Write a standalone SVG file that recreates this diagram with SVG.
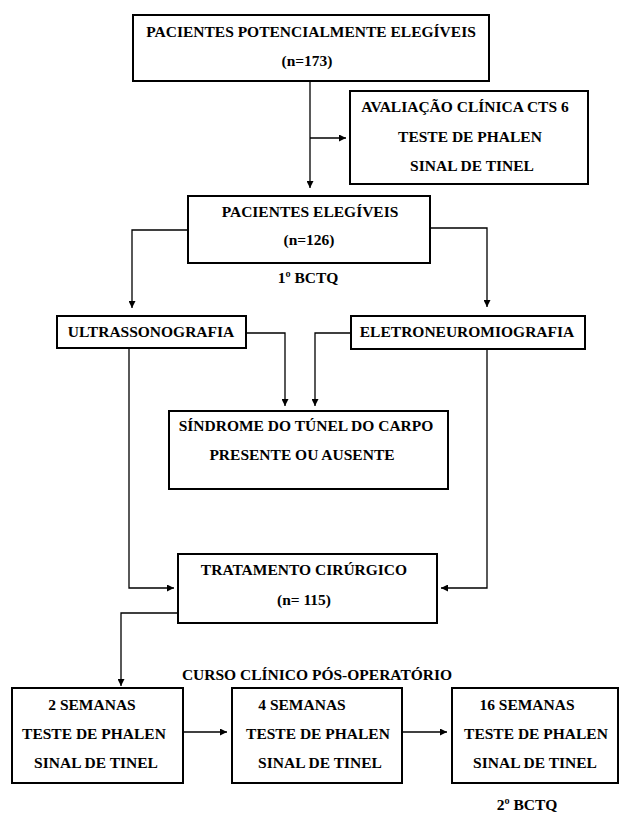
<svg xmlns="http://www.w3.org/2000/svg" width="619" height="815" viewBox="0 0 619 815">
<style>
.box{fill:#fff;stroke:#000;stroke-width:2}
.t{font-family:"Liberation Serif","Times New Roman",serif;font-weight:bold;font-size:15.5px;fill:#000;text-anchor:middle}
.c{fill:none;stroke:#000;stroke-width:1.3}
</style>
<defs>
<marker id="ah" viewBox="0 0 10 10" refX="10" refY="5" markerWidth="7" markerHeight="7" markerUnits="userSpaceOnUse" orient="auto">
<path d="M0,0 L10,5 L0,10 z" fill="#000"/>
</marker>
</defs>
<rect width="619" height="815" fill="#fff"/>
<g id="connectors">
<path class="c" d="M310,81 V188" marker-end="url(#ah)"/>
<path class="c" d="M310,138 H346" marker-end="url(#ah)"/>
<path class="c" d="M188,230 H132 V308" marker-end="url(#ah)"/>
<path class="c" d="M430,228 H487 V307" marker-end="url(#ah)"/>
<path class="c" d="M246,333 H285 V406" marker-end="url(#ah)"/>
<path class="c" d="M351,333 H315 V406" marker-end="url(#ah)"/>
<path class="c" d="M129,348 V588 H174" marker-end="url(#ah)"/>
<path class="c" d="M487,349 V588 H441" marker-end="url(#ah)"/>
<path class="c" d="M178,613 H121 V686" marker-end="url(#ah)"/>
<path class="c" d="M183,732 H227" marker-end="url(#ah)"/>
<path class="c" d="M402,732 H447" marker-end="url(#ah)"/>
</g>
<g id="n-potenciais">
<rect class="box" x="133" y="15" width="356" height="66"/>
<text class="t" x="311" y="37">PACIENTES POTENCIALMENTE ELEGÍVEIS</text>
<text class="t" x="307" y="66">(n=173)</text>
</g>
<g id="n-avaliacao">
<rect class="box" x="350" y="91" width="238" height="93"/>
<text class="t" x="465" y="112">AVALIAÇÃO CLÍNICA CTS 6</text>
<text class="t" x="470" y="142">TESTE DE PHALEN</text>
<text class="t" x="472" y="171">SINAL DE TINEL</text>
</g>
<g id="n-elegiveis">
<rect class="box" x="188" y="196" width="242" height="67"/>
<text class="t" x="310" y="217">PACIENTES ELEGÍVEIS</text>
<text class="t" x="309" y="245">(n=126)</text>
</g>
<g id="l-bctq1">
<text class="t" x="308" y="283">1º BCTQ</text>
</g>
<g id="n-ultra">
<rect class="box" x="57" y="316" width="189" height="32"/>
<text class="t" x="151" y="337">ULTRASSONOGRAFIA</text>
</g>
<g id="n-eletro">
<rect class="box" x="351" y="316" width="234" height="33"/>
<text class="t" x="467" y="337">ELETRONEUROMIOGRAFIA</text>
</g>
<g id="n-sindrome">
<rect class="box" x="169" y="411" width="279" height="78"/>
<text class="t" x="306" y="431">SÍNDROME DO TÚNEL DO CARPO</text>
<text class="t" x="302" y="460">PRESENTE OU AUSENTE</text>
</g>
<g id="n-tratamento">
<rect class="box" x="178" y="554" width="259" height="69"/>
<text class="t" x="304" y="575">TRATAMENTO CIRÚRGICO</text>
<text class="t" x="304" y="605">(n= 115)</text>
</g>
<g id="l-curso">
<text class="t" x="317" y="680">CURSO CLÍNICO PÓS-OPERATÓRIO</text>
</g>
<g id="n-2sem">
<rect class="box" x="12" y="688" width="171" height="95"/>
<text class="t" x="92" y="710">2 SEMANAS</text>
<text class="t" x="94" y="739">TESTE DE PHALEN</text>
<text class="t" x="96" y="768">SINAL DE TINEL</text>
</g>
<g id="n-4sem">
<rect class="box" x="232" y="688" width="170" height="95"/>
<text class="t" x="302" y="710">4 SEMANAS</text>
<text class="t" x="318" y="739">TESTE DE PHALEN</text>
<text class="t" x="320" y="768">SINAL DE TINEL</text>
</g>
<g id="n-16sem">
<rect class="box" x="452" y="688" width="166" height="95"/>
<text class="t" x="527" y="710">16 SEMANAS</text>
<text class="t" x="536" y="739">TESTE DE PHALEN</text>
<text class="t" x="535" y="768">SINAL DE TINEL</text>
</g>
<g id="l-bctq2">
<text class="t" x="527" y="810">2º BCTQ</text>
</g>
</svg>
